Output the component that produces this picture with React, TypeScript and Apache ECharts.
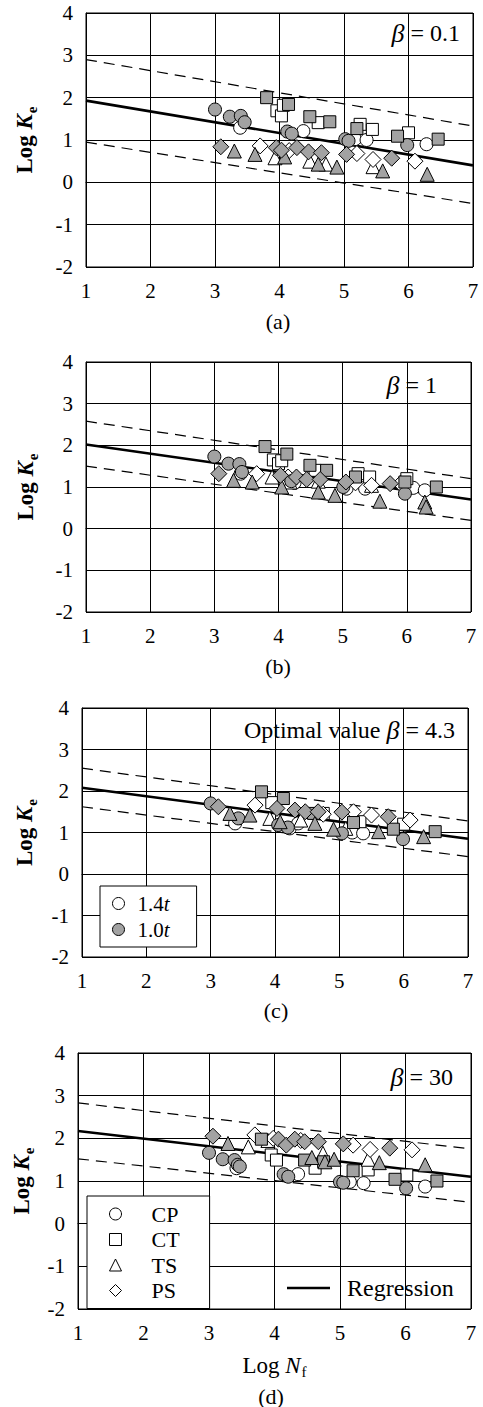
import React, { useEffect, useRef } from "react";
import * as echarts from "echarts";

const FONT = "Liberation Serif";

// ---------- data: [Log Nf, Log Ke] ----------
// panel (a) beta = 0.1
const aCPo = [[3.39,1.29],[4.37,1.21],[5.17,1.02],[5.35,1.0],[6.28,0.9]];
const aCPf = [[3.0,1.72],[3.23,1.55],[3.4,1.57],[3.46,1.42],[4.12,1.2],[4.19,1.15],[5.02,1.02],[5.07,0.98],[5.98,0.88]];
const aCTo = [[3.96,1.69],[4.03,1.57],[4.06,1.82],[4.6,1.41],[5.25,1.37],[5.44,1.25],[6.0,1.17]];
const aCTf = [[3.8,2.0],[4.14,1.84],[4.47,1.55],[4.78,1.43],[5.2,1.27],[5.83,1.09],[6.46,1.02]];
const aTSo = [[3.93,0.58],[4.47,0.5],[4.72,0.43],[5.45,0.37]];
const aTSf = [[3.3,0.74],[3.62,0.66],[4.08,0.6],[4.6,0.43],[4.89,0.36],[5.6,0.27],[6.29,0.19]];
const aPSo = [[3.7,0.86],[4.15,0.75],[5.2,0.68],[5.45,0.54],[6.1,0.5]];
const aPSf = [[3.09,0.84],[3.95,0.82],[4.03,0.76],[4.27,0.82],[4.45,0.72],[4.65,0.7],[5.04,0.66],[5.74,0.57]];
const aReg = [[1,1.93],[7,0.4]];
const aUp = [[1,2.9],[7,1.33]];
const aLo = [[1,0.95],[7,-0.5]];

// panel (b) beta = 1
const bCPo = [[3.41,1.32],[4.25,1.1],[5.06,0.96],[5.35,0.96],[6.1,0.98],[6.28,0.92]];
const bCPf = [[3.0,1.73],[3.22,1.56],[3.39,1.55],[3.43,1.36],[4.2,1.14],[5.01,1.0],[5.97,0.84]];
const bCTo = [[3.92,1.65],[4.0,1.56],[4.05,1.63],[4.57,1.4],[5.24,1.32],[5.42,1.24],[6.0,1.2]];
const bCTf = [[3.79,1.97],[4.13,1.79],[4.49,1.52],[4.75,1.4],[5.2,1.24],[5.97,1.12],[6.46,1.0]];
const bTSo = [[3.9,1.24],[4.18,1.12],[4.62,1.14],[5.45,1.04]];
const bTSf = [[3.3,1.16],[3.59,1.12],[4.05,1.0],[4.62,0.88],[4.88,0.8],[5.58,0.66],[6.28,0.64],[6.3,0.52]];
const bPSo = [[3.66,1.32],[4.15,1.24],[5.2,1.1],[5.45,1.04],[5.9,1.08]];
const bPSf = [[3.07,1.32],[4.03,1.28],[4.28,1.24],[4.44,1.18],[4.65,1.18],[5.05,1.12],[5.74,1.08]];
const bReg = [[1,2.02],[7,0.7]];
const bUp = [[1,2.58],[7,1.2]];
const bLo = [[1,1.5],[7,0.2]];

// panel (c) beta = 4.3
const cCPo = [[3.38,1.22],[4.23,1.1],[4.36,1.22],[5.2,1.0],[5.37,0.98]];
const cCPf = [[3.0,1.7],[3.43,1.34],[4.05,1.18],[4.2,1.12],[5.04,0.98],[5.99,0.84]];
const cCTo = [[3.95,1.72],[4.75,1.46],[5.32,1.26],[6.0,1.2]];
const cCTf = [[3.79,1.98],[4.13,1.82],[4.6,1.46],[5.22,1.24],[5.84,1.08],[6.49,1.02]];
const cTSo = [[3.92,1.34],[4.4,1.3],[5.1,1.1]];
const cTSf = [[3.3,1.46],[3.61,1.42],[4.08,1.26],[4.62,1.22],[4.91,1.08],[5.61,1.02],[6.31,0.9]];
const cPSo = [[3.69,1.66],[4.75,1.44],[5.22,1.5],[5.5,1.42],[6.1,1.3]];
const cPSf = [[3.12,1.62],[4.03,1.58],[4.31,1.54],[4.47,1.5],[4.67,1.5],[5.04,1.49],[5.76,1.38]];
const cReg = [[1,2.08],[7,0.85]];
const cUp = [[1,2.55],[7,1.28]];
const cLo = [[1,1.62],[7,0.42]];

// panel (d) beta = 30
const dCPo = [[3.42,1.3],[4.36,1.16],[5.15,0.98],[5.36,0.95],[6.3,0.87]];
const dCPf = [[3.0,1.66],[3.21,1.51],[3.39,1.49],[3.44,1.38],[3.47,1.34],[4.14,1.16],[4.21,1.1],[5.0,0.98],[5.05,0.96],[6.01,0.83]];
const dCTo = [[3.95,1.61],[4.03,1.49],[4.62,1.3],[5.43,1.26],[6.02,1.14]];
const dCTf = [[3.8,1.98],[4.46,1.49],[4.75,1.45],[5.2,1.24],[5.84,1.04],[6.48,1.0]];
const dTSo = [[3.6,1.8],[3.9,1.95],[4.74,1.65],[5.43,1.51]];
const dTSf = [[3.29,1.88],[4.57,1.55],[4.77,1.45],[4.91,1.51],[5.6,1.43],[6.3,1.38]];
const dPSo = [[3.7,2.08],[3.98,2.0],[4.4,1.95],[5.2,1.84],[5.46,1.74],[6.1,1.73]];
const dPSf = [[3.06,2.05],[4.06,1.98],[4.18,1.84],[4.31,1.98],[4.46,1.92],[4.67,1.92],[5.05,1.87],[5.76,1.77]];
const dReg = [[1,2.17],[7,1.1]];
const dUp = [[1,2.83],[7,1.75]];
const dLo = [[1,1.52],[7,0.5]];

const xTicks = [1, 2, 3, 4, 5, 6, 7];
const yTicks = [-2, -1, 0, 1, 2, 3, 4];
const panelLabels = ["(a)", "(b)", "(c)", "(d)"];
const betaTexts = ["{i|β} = 0.1", "{i|β} = 1", "Optimal value {i|β} = 4.3", "{i|β} = 30"];
const specimenTypes = ["CP", "CT", "TS", "PS"];
const thicknessNames = ["1.4t", "1.0t"];

// ---------- layout ----------
const grids = [
  { left: 86, top: 13, width: 387, height: 254 },
  { left: 86, top: 362, width: 385, height: 250 },
  { left: 82, top: 708, width: 386, height: 249 },
  { left: 78, top: 1053, width: 393, height: 256 },
];
const yNameGaps = [47, 46, 43, 41];

const FILL = "#a2a2a2";
const SYM: Record<string, [string, number]> = {
  CP: ["circle", 13],
  CT: ["rect", 12],
  TS: ["triangle", 14],
  PS: ["diamond", 16],
};

const panels = [
  { o: [aCPo, aCTo, aTSo, aPSo], f: [aCPf, aCTf, aTSf, aPSf], reg: aReg, up: aUp, lo: aLo },
  { o: [bCPo, bCTo, bTSo, bPSo], f: [bCPf, bCTf, bTSf, bPSf], reg: bReg, up: bUp, lo: bLo },
  { o: [cCPo, cCTo, cTSo, cPSo], f: [cCPf, cCTf, cTSf, cPSf], reg: cReg, up: cUp, lo: cLo },
  { o: [dCPo, dCTo, dTSo, dPSo], f: [dCPf, dCTf, dTSf, dPSf], reg: dReg, up: dUp, lo: dLo },
];

function buildOption() {
  const series: any[] = [];
  const xAxis: any[] = [];
  const yAxis: any[] = [];
  panels.forEach((p, gi) => {
    xAxis.push({
      type: "value",
      gridIndex: gi,
      min: xTicks[0],
      max: xTicks[xTicks.length - 1],
      interval: 1,
      axisLine: { show: true, lineStyle: { color: "#000", width: 1 } },
      axisTick: { show: false },
      splitLine: { show: true, lineStyle: { color: "#000", width: 1 } },
      axisLabel: { fontFamily: FONT, fontSize: 21, color: "#000", margin: 13 },
      name: gi === 3 ? "{n|Log }{k|N}{s|f}" : "",
      nameLocation: "middle",
      nameGap: 42,
      nameTextStyle: {
        color: "#000",
        rich: {
          n: { fontFamily: FONT, fontSize: 23, color: "#000", lineHeight: 22 },
          k: { fontFamily: FONT, fontSize: 23, fontStyle: "italic", color: "#000", lineHeight: 22 },
          s: { fontFamily: FONT, fontSize: 15, color: "#000", lineHeight: 28, verticalAlign: "bottom", padding: [0, 0, 0, 1] },
        },
      },
    });
    yAxis.push({
      type: "value",
      gridIndex: gi,
      min: yTicks[0],
      max: yTicks[yTicks.length - 1],
      interval: 1,
      axisLine: { show: true, lineStyle: { color: "#000", width: 1 } },
      axisTick: { show: false },
      splitLine: { show: true, lineStyle: { color: "#000", width: 1 } },
      axisLabel: { fontFamily: FONT, fontSize: 21, color: "#000", margin: 13 },
      name: "{n|Log }{k|K}{s|e}",
      nameLocation: "middle",
      nameGap: yNameGaps[gi],
      nameRotate: 90,
      nameTextStyle: {
        color: "#000",
        rich: {
          n: { fontFamily: FONT, fontSize: 23, fontWeight: "bold", color: "#000", lineHeight: 22 },
          k: { fontFamily: FONT, fontSize: 23, fontWeight: "bold", fontStyle: "italic", color: "#000", lineHeight: 22 },
          s: { fontFamily: FONT, fontSize: 15, fontWeight: "bold", color: "#000", lineHeight: 30, verticalAlign: "bottom", padding: [0, 0, 0, 1] },
        },
      },
    });
    series.push({
      type: "line", xAxisIndex: gi, yAxisIndex: gi, name: "up" + gi, data: p.up,
      symbol: "none", lineStyle: { color: "#000", width: 1.2, type: [11, 7] }, z: 2, silent: true,
    });
    series.push({
      type: "line", xAxisIndex: gi, yAxisIndex: gi, name: "lo" + gi, data: p.lo,
      symbol: "none", lineStyle: { color: "#000", width: 1.2, type: [11, 7] }, z: 2, silent: true,
    });
    series.push({
      type: "line", xAxisIndex: gi, yAxisIndex: gi, name: gi === 3 ? "Regression" : "reg" + gi, data: p.reg,
      symbol: "none", lineStyle: { color: "#000", width: 2.6 }, itemStyle: { color: "#000" }, z: 3, silent: true,
    });
    specimenTypes.forEach((t, k) => {
      const [sym, size] = SYM[t];
      series.push({
        type: "scatter", xAxisIndex: gi, yAxisIndex: gi,
        name: gi === 3 ? t : gi === 2 && k === 0 ? thicknessNames[0] : `o${gi}${t}`,
        data: p.o[k], symbol: sym, symbolSize: size,
        itemStyle: { color: "#fff", borderColor: "#000", borderWidth: 1, opacity: 1 }, z: 4,
      });
      series.push({
        type: "scatter", xAxisIndex: gi, yAxisIndex: gi,
        name: gi === 2 && k === 0 ? thicknessNames[1] : `f${gi}${t}`,
        data: p.f[k], symbol: sym, symbolSize: size,
        itemStyle: { color: FILL, borderColor: "#000", borderWidth: 1, opacity: 1 }, z: 5,
      });
    });
  });

  const graphic: any[] = [];
  const labelY = [321, 666, 1010, 1396];
  const labelX = [278, 278, 276, 271];
  panelLabels.forEach((t, i) => {
    graphic.push({
      type: "text", x: labelX[i], y: labelY[i],
      style: { text: t, fontFamily: FONT, fontSize: 22, fill: "#000", align: "center", verticalAlign: "middle" },
    });
  });
  const betaX = [460, 437, 455, 453];
  const betaY = [33, 385, 730, 1077];
  betaTexts.forEach((t, i) => {
    graphic.push({
      type: "text", x: betaX[i], y: betaY[i],
      style: {
        text: t, fontFamily: FONT, fontSize: 24, fill: "#000", align: "right", verticalAlign: "middle",
        rich: { i: { fontFamily: FONT, fontSize: 26, fontStyle: "italic", fill: "#000" } },
      },
    });
  });

  const legendText = (pad: number, fs: number) => ({
    fontFamily: FONT, fontSize: fs, color: "#000", lineHeight: 20,
    rich: {
      n: { fontFamily: FONT, fontSize: fs, color: "#000", padding: [0, 0, 0, pad] },
      i: { fontFamily: FONT, fontSize: fs, color: "#000", fontStyle: "italic" },
    },
  });

  const legend = [
    {
      left: 100, top: 886, orient: "vertical",
      data: thicknessNames, itemWidth: 12, itemHeight: 12, itemGap: 5,
      padding: [7, 27, 7, 12], borderColor: "#000", borderWidth: 1, backgroundColor: "#fff",
      selectedMode: false,
      itemStyle: { borderWidth: 1 },
      formatter: (n: string) => `{n|${n.slice(0, -1)}}{i|t}`,
      textStyle: legendText(8, 21),
    },
    {
      left: 87, top: 1196, orient: "vertical",
      data: specimenTypes, itemWidth: 12, itemHeight: 12, itemGap: 3.5,
      padding: [7, 30, 7, 22], borderColor: "#000", borderWidth: 1, backgroundColor: "#fff",
      selectedMode: false,
      itemStyle: { borderWidth: 1 },
      formatter: (n: string) => `{n|${n}}`,
      textStyle: legendText(25, 22),
    },
    {
      left: 287, top: 1276, orient: "vertical",
      data: [{ name: "Regression", icon: "rect" }], itemWidth: 43, itemHeight: 2.6,
      padding: 0, selectedMode: false,
      formatter: (n: string) => `{n|${n}}`,
      textStyle: {
        fontFamily: FONT, fontSize: 24, color: "#000", lineHeight: 24,
        rich: { n: { fontFamily: FONT, fontSize: 24, color: "#000", padding: [0, 0, 0, 12] } },
      },
    },
  ];

  return {
    animation: false,
    backgroundColor: "#fff",
    grid: grids.map((g) => ({ ...g, show: true, borderColor: "#000", borderWidth: 1, backgroundColor: "transparent" })),
    xAxis,
    yAxis,
    legend,
    series,
    graphic,
  };
}

export default function App() {
  const ref = useRef<HTMLDivElement>(null);
  useEffect(() => {
    if (!ref.current) return;
    const chart = echarts.init(ref.current, undefined, { renderer: "svg" });
    chart.setOption(buildOption() as any);
    return () => chart.dispose();
  }, []);
  return (
    <div
      ref={ref}
      style={{ position: "absolute", left: 0, top: 0, width: 483, height: 1407, background: "#fff" }}
    />
  );
}
